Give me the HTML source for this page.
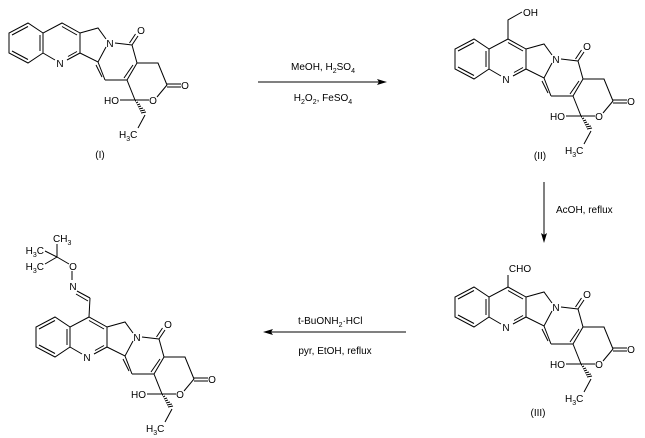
<!DOCTYPE html>
<html><head><meta charset="utf-8"><style>
html,body{margin:0;padding:0;background:#fff;}
svg{display:block;}
text{font-family:"Liberation Sans",Arial,sans-serif;font-size:10px;fill:#000;}
</style></head><body>
<svg width="645" height="438" viewBox="0 0 645 438" xmlns="http://www.w3.org/2000/svg">
<defs>
<g id="core" stroke="#000" stroke-width="1" fill="none">
  <!-- benzene -->
  <polyline points="43,33 28,23 9,33 9,53 28,63 43,53"/>
  <line x1="12" y1="35" x2="28" y2="26.5"/>
  <line x1="40" y1="35" x2="40" y2="51"/>
  <line x1="12" y1="51" x2="28" y2="59.5"/>
  <!-- pyridine -->
  <polyline points="43,53 43,33 62,23 80,33 80,53"/>
  <line x1="43" y1="53" x2="55" y2="60"/>
  <line x1="67" y1="60" x2="80" y2="53"/>
  <line x1="68" y1="56.5" x2="77" y2="51.5"/>
  <line x1="62" y1="26.5" x2="77" y2="35"/>
  <!-- five ring -->
  <polyline points="80,33 98,28 106,39"/>
  <polyline points="106,47 98,62 80,53"/>
  <!-- pyridone -->
  <line x1="115" y1="43" x2="132" y2="45"/>
  <line x1="132" y1="45" x2="137" y2="63"/>
  <line x1="137" y1="63" x2="127" y2="80"/>
  <line x1="133" y1="65" x2="124" y2="78"/>
  <line x1="127" y1="80" x2="105" y2="80"/>
  <line x1="105" y1="80" x2="98" y2="62"/>
  <line x1="102" y1="77" x2="96" y2="65"/>
  <line x1="132" y1="45" x2="138" y2="36"/>
  <line x1="129.5" y1="43" x2="135.5" y2="34"/>
  <!-- lactone -->
  <polyline points="137,63 158,63 167,85"/>
  <line x1="167" y1="84" x2="181" y2="84"/>
  <line x1="167" y1="87" x2="181" y2="87"/>
  <line x1="167" y1="85" x2="157" y2="97"/>
  <line x1="149" y1="100" x2="135" y2="100"/>
  <line x1="135" y1="100" x2="127" y2="80"/>
  <line x1="120" y1="100" x2="135" y2="100"/>
  <!-- hashed wedge -->
  <g stroke-width="1">
    <line x1="135" y1="101" x2="136" y2="101"/>
    <line x1="136" y1="103" x2="138" y2="102"/>
    <line x1="137" y1="105" x2="140" y2="104"/>
    <line x1="138" y1="107" x2="141" y2="106"/>
    <line x1="139" y1="109" x2="143" y2="108"/>
    <line x1="140" y1="111" x2="145" y2="110"/>
    <line x1="141" y1="113" x2="146" y2="112"/>
  </g>
  <line x1="145" y1="115" x2="138" y2="128"/>
</g>
</defs>

<!-- Structure I -->
<use href="#core" x="0" y="0"/>
<g>
<text x="60" y="67" text-anchor="middle">N</text>
<text x="110" y="47" text-anchor="middle">N</text>
<text x="141" y="34" text-anchor="middle">O</text>
<text x="185" y="89" text-anchor="middle">O</text>
<text x="153" y="104" text-anchor="middle">O</text>
<text x="119" y="104" text-anchor="end">HO</text>
<text x="119" y="138">H<tspan font-size="7" dy="3">3</tspan><tspan dy="-3">C</tspan></text>
<text x="100" y="158" text-anchor="middle">(I)</text>
</g>

<!-- Structure II -->
<use href="#core" x="446" y="16"/>
<g transform="translate(446,16)">
<text x="60" y="67" text-anchor="middle">N</text>
<text x="110" y="47" text-anchor="middle">N</text>
<text x="141" y="34" text-anchor="middle">O</text>
<text x="185" y="89" text-anchor="middle">O</text>
<text x="153" y="104" text-anchor="middle">O</text>
<text x="119" y="104" text-anchor="end">HO</text>
<text x="119" y="138">H<tspan font-size="7" dy="3">3</tspan><tspan dy="-3">C</tspan></text>
</g>
<g stroke="#000" fill="none"><polyline points="508,39 508,20 522,12"/></g>
<text x="523" y="16">OH</text>
<text x="540" y="159" text-anchor="middle">(II)</text>

<!-- Structure III -->
<use href="#core" x="446" y="264"/>
<g transform="translate(446,264)">
<text x="60" y="67" text-anchor="middle">N</text>
<text x="110" y="47" text-anchor="middle">N</text>
<text x="141" y="34" text-anchor="middle">O</text>
<text x="185" y="89" text-anchor="middle">O</text>
<text x="153" y="104" text-anchor="middle">O</text>
<text x="119" y="104" text-anchor="end">HO</text>
<text x="119" y="138">H<tspan font-size="7" dy="3">3</tspan><tspan dy="-3">C</tspan></text>
</g>
<g stroke="#000" fill="none"><line x1="508" y1="287" x2="508" y2="275"/></g>
<text x="520" y="272" text-anchor="middle">CHO</text>
<text x="538" y="416" text-anchor="middle">(III)</text>

<!-- Structure IV -->
<use href="#core" x="27" y="294"/>
<g transform="translate(27,294)">
<text x="60" y="67" text-anchor="middle">N</text>
<text x="110" y="47" text-anchor="middle">N</text>
<text x="141" y="34" text-anchor="middle">O</text>
<text x="185" y="89" text-anchor="middle">O</text>
<text x="153" y="104" text-anchor="middle">O</text>
<text x="119" y="104" text-anchor="end">HO</text>
<text x="119" y="138">H<tspan font-size="7" dy="3">3</tspan><tspan dy="-3">C</tspan></text>
</g>
<g stroke="#000" fill="none">
  <line x1="89" y1="317" x2="90" y2="298"/>
  <line x1="90" y1="298" x2="77" y2="291"/>
  <line x1="88" y1="301" x2="76" y2="294"/>
  <line x1="72" y1="280" x2="72" y2="271"/>
  <line x1="69" y1="264" x2="57" y2="257"/>
  <line x1="57" y1="257" x2="57" y2="244"/>
  <line x1="57" y1="257" x2="45" y2="251"/>
  <line x1="57" y1="257" x2="45" y2="264"/>
</g>
<text x="73" y="290" text-anchor="middle">N</text>
<text x="73" y="270" text-anchor="middle">O</text>
<text x="53" y="242">CH<tspan font-size="7" dy="3">3</tspan></text>
<text x="44" y="254" text-anchor="end">H<tspan font-size="7" dy="3">3</tspan><tspan dy="-3">C</tspan></text>
<text x="44" y="270" text-anchor="end">H<tspan font-size="7" dy="3">3</tspan><tspan dy="-3">C</tspan></text>

<!-- Arrow 1 -->
<line x1="258" y1="82" x2="382" y2="82" stroke="#000"/>
<polygon points="387,82 377,79 379,82 377,85" fill="#000"/>
<text x="323" y="70" text-anchor="middle">MeOH, H<tspan font-size="7" dy="3">2</tspan><tspan dy="-3">SO</tspan><tspan font-size="7" dy="3">4</tspan></text>
<text x="323" y="101" text-anchor="middle">H<tspan font-size="7" dy="3">2</tspan><tspan dy="-3">O</tspan><tspan font-size="7" dy="3">2</tspan><tspan dy="-3">, FeSO</tspan><tspan font-size="7" dy="3">4</tspan></text>

<!-- Arrow 2 (down) -->
<line x1="544" y1="182" x2="544" y2="238" stroke="#000"/>
<polygon points="544,243 541,233 544,235 547,233" fill="#000"/>
<text x="556" y="213">AcOH, reflux</text>

<!-- Arrow 3 (left) -->
<line x1="268" y1="332" x2="406" y2="332" stroke="#000"/>
<polygon points="263,332 273,329 271,332 273,335" fill="#000"/>
<text x="298" y="324">t-BuONH<tspan font-size="7" dy="3">2</tspan><tspan dy="-3">·HCl</tspan></text>
<text x="335" y="354" text-anchor="middle">pyr, EtOH, reflux</text>
</svg>
</body></html>
